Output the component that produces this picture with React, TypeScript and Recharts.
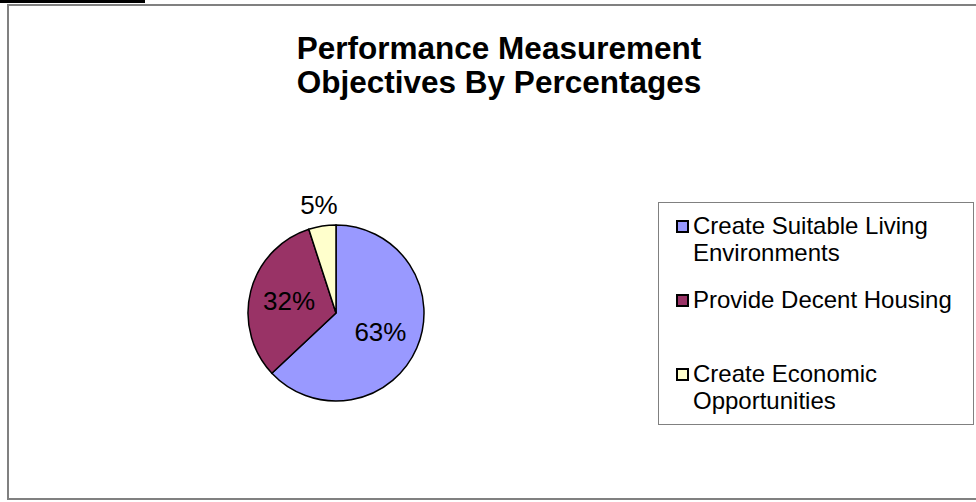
import { Legend, Pie, PieChart, Cell } from "recharts";

const categories = [
  "Create Suitable Living Environments",
  "Provide Decent Housing",
  "Create Economic Opportunities",
];
const shares = [63, 32, 5];
const colors = ["#9999FF", "#993366", "#FFFFCC"];

const titleLines = ["Performance Measurement", "Objectives By Percentages"];

const FONT = "Arial, 'Liberation Sans', sans-serif";

const data = categories.map((name, i) => ({ name, value: shares[i] }));

const RAD = Math.PI / 180;

function SliceLabel(props: any) {
  const { cx, cy, midAngle, outerRadius, percent, value } = props;
  const r = percent < 0.1 ? outerRadius * 1.24 : outerRadius * 0.55;
  const x = cx + r * Math.cos(-midAngle * RAD);
  const y = cy + r * Math.sin(-midAngle * RAD);
  return (
    <text x={x} y={y} textAnchor="middle" dominantBaseline="central" fill="#000" fontSize={26} fontFamily={FONT}>
      {`${value}%`}
    </text>
  );
}

// legend keeps the data order (recharts sorts the payload by name)
function LegendBox() {
  return (
    <div
      style={{
        width: 316,
        height: 223,
        boxSizing: "border-box",
        border: "1px solid #808080",
        background: "#fff",
        paddingTop: 9,
        fontFamily: FONT,
        fontSize: 24,
        lineHeight: "27px",
        color: "#000",
        textAlign: "left",
      }}
    >
      {categories.map((name, i) => (
        <div key={name} style={{ position: "relative", height: 74 }}>
          <div
            style={{
              position: "absolute",
              left: 17,
              top: 8,
              width: 13,
              height: 13,
              boxSizing: "border-box",
              border: "2px solid #000",
              background: colors[i],
            }}
          />
          <div style={{ position: "absolute", left: 34, top: 0, width: 272 }}>{name}</div>
        </div>
      ))}
    </div>
  );
}

export default function App() {
  return (
    <div style={{ position: "absolute", left: 0, top: 0, width: 976, height: 502, overflow: "hidden", background: "#fff" }}>
      <div style={{ position: "absolute", left: 0, top: 0, width: 145, height: 3, background: "#000" }} />
      <div
        style={{
          position: "absolute",
          left: 7,
          top: 4,
          width: 1000,
          height: 496,
          boxSizing: "border-box",
          border: "2px solid #808080",
        }}
      />
      <div
        style={{
          position: "absolute",
          left: 0,
          top: 31,
          width: 998,
          textAlign: "center",
          fontFamily: FONT,
          fontWeight: "bold",
          fontSize: 31.5,
          lineHeight: "34px",
          color: "#000",
        }}
      >
        {titleLines.map((t) => (
          <div key={t}>{t}</div>
        ))}
      </div>
      <div style={{ position: "absolute", left: 0, top: 0 }}>
        <PieChart width={976} height={502} margin={{ top: 0, right: 0, bottom: 0, left: 0 }}>
          <Pie
            data={data}
            dataKey="value"
            nameKey="name"
            cx={336}
            cy={313}
            outerRadius={88}
            startAngle={90}
            endAngle={-270}
            stroke="#000"
            strokeWidth={1.5}
            label={SliceLabel}
            labelLine={false}
            isAnimationActive={false}
          >
            {data.map((d, i) => (
              <Cell key={d.name} fill={colors[i]} />
            ))}
          </Pie>
          <Legend
            layout="vertical"
            content={<LegendBox />}
            wrapperStyle={{ position: "absolute", left: 658, top: 202, width: 316, height: 223 }}
          />
        </PieChart>
      </div>
    </div>
  );
}
